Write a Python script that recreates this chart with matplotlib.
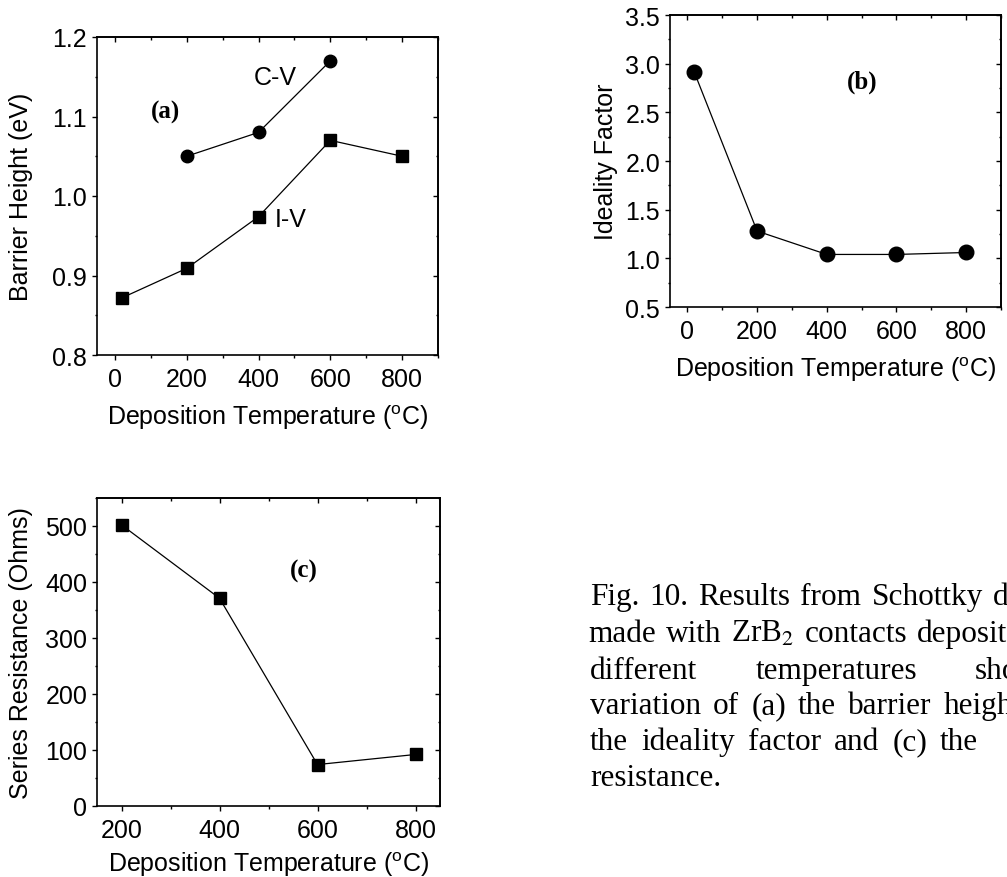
import matplotlib
matplotlib.use("Agg")
import matplotlib.pyplot as plt
from matplotlib.ticker import MultipleLocator

plt.rcParams["font.family"] = "Liberation Sans"
plt.rcParams["mathtext.fontset"] = "custom"
plt.rcParams["mathtext.rm"] = "Liberation Sans"

## DATA

temps_iv = [20, 200, 400, 600, 800]
barrier_iv = [0.872, 0.909, 0.974, 1.07, 1.05]
temps_cv = [200, 400, 600]
barrier_cv = [1.05, 1.08, 1.17]

temps_ideal = [20, 200, 400, 600, 800]
ideality = [2.91, 1.28, 1.04, 1.04, 1.06]

temps_rs = [200, 400, 600, 800]
resistance = [502, 371, 74, 92]

XLABEL = r"Deposition Temperature ($^{\mathrm{o}}$C)"

# justified caption, cut by the page edge: (baseline px, left px, word gap px, words)
caption = [
	(605, 590, 10, ["Fig.", "10.", "Results", "from", "Schottky", "diodes"]),
	(642, 588, 10, ["made", "with", r"ZrB$_2$", "contacts", "deposited"]),
	(679, 590, 58, ["different", "temperatures", "showing"]),
	(714, 590, 12, ["variation", "of", "(a)", "the", "barrier", "height"]),
	(750, 590, 13, ["the", "ideality", "factor", "and", "(c)", "the"]),
	(786, 590, 10, ["resistance."]),
]

W, H = 1007, 878

## UTIL

def _box(left, top, right, bottom):
	return [left / W, 1 - bottom / H, (right - left) / W, (bottom - top) / H]

def _style(ax, xmaj, xmin, ymaj, ymin):
	for s in ax.spines.values():
		s.set_linewidth(1.2)
	ax.xaxis.set_major_locator(MultipleLocator(xmaj))
	ax.xaxis.set_minor_locator(MultipleLocator(xmin))
	ax.yaxis.set_major_locator(MultipleLocator(ymaj))
	ax.yaxis.set_minor_locator(MultipleLocator(ymin))
	ax.tick_params(which = "both", direction = "out", width = 1, labelsize = 18)
	ax.tick_params(which = "major", length = 3.6)
	ax.tick_params(which = "minor", length = 1.8)
	ax.tick_params(axis = "x", pad = 5)
	ax.tick_params(axis = "y", pad = 3.5)

	top = ax.secondary_xaxis("top")
	top.xaxis.set_major_locator(MultipleLocator(xmaj))
	top.xaxis.set_minor_locator(MultipleLocator(xmin))
	right = ax.secondary_yaxis("right")
	right.yaxis.set_major_locator(MultipleLocator(ymaj))
	right.yaxis.set_minor_locator(MultipleLocator(ymin))
	for sec in (top, right):
		sec.tick_params(which = "both", direction = "in", width = 1,
			labeltop = False, labelright = False)
		sec.tick_params(which = "major", length = 3.6)
		sec.tick_params(which = "minor", length = 1.8)
		for s in sec.spines.values():
			s.set_linewidth(1.2)

def _panel(ax, text, x, y):
	ax.text(x, y, text, transform = ax.transAxes, ha = "center", va = "center",
		fontsize = 18, fontweight = "bold", family = "Liberation Serif")

## MAIN

fig = plt.figure(figsize = (W / 100, H / 100), dpi = 100)

# (a)
ax = fig.add_axes(_box(97, 38, 438, 356))
ax.plot(temps_iv, barrier_iv, "k-", lw = 0.9, marker = "s", ms = 8.5)
ax.plot(temps_cv, barrier_cv, "k-", lw = 0.9, marker = "o", ms = 9)
ax.set_xlim(-50, 900)
ax.set_ylim(0.8, 1.2)
_style(ax, 200, 100, 0.1, 0.05)
ax.yaxis.set_major_formatter(lambda v, _: f"{v:.1f}")
ax.set_xlabel(XLABEL, fontsize = 18)
ax.set_ylabel("Barrier Height (eV)", fontsize = 18)
ax.xaxis.set_label_coords(0.5, -0.148)
ax.yaxis.set_label_coords(-0.188, 0.5)
ax.text(0.522, 0.874, "C-V", transform = ax.transAxes, ha = "center", va = "center", fontsize = 18)
ax.text(0.569, 0.428, "I-V", transform = ax.transAxes, ha = "center", va = "center", fontsize = 18)
_panel(ax, "(a)", 0.202, 0.767)

# (b)
ax = fig.add_axes(_box(670, 16, 1001, 308))
ax.plot(temps_ideal, ideality, "k-", lw = 0.9, marker = "o", ms = 10.5)
ax.set_xlim(-50, 900)
ax.set_ylim(0.5, 3.5)
_style(ax, 200, 100, 0.5, 0.25)
ax.yaxis.set_major_formatter(lambda v, _: f"{v:.1f}")
ax.set_xlabel(XLABEL, fontsize = 18)
ax.set_ylabel("Ideality Factor", fontsize = 18)
ax.xaxis.set_label_coords(0.5, -0.161)
ax.yaxis.set_label_coords(-0.157, 0.5)
_panel(ax, "(b)", 0.58, 0.774)

# (c)
ax = fig.add_axes(_box(97, 499, 440, 807))
ax.plot(temps_rs, resistance, "k-", lw = 0.9, marker = "s", ms = 9)
ax.set_xlim(150, 850)
ax.set_ylim(0, 550)
_style(ax, 200, 100, 100, 50)
ax.set_xlabel(XLABEL, fontsize = 18)
ax.set_ylabel("Series Resistance (Ohms)", fontsize = 18)
ax.xaxis.set_label_coords(0.5, -0.14)
ax.yaxis.set_label_coords(-0.187, 0.5)
_panel(ax, "(c)", 0.603, 0.766)

# caption, words laid out one after another
renderer = fig.canvas.get_renderer()
for y, x, gap, words in caption:
	for word in words:
		t = fig.text(x / W, 1 - y / H, word, ha = "left", va = "baseline",
			fontsize = 22.5, family = "Liberation Serif", math_fontfamily = "stix")
		x += t.get_window_extent(renderer).width + gap

fig.savefig("out.png", dpi = 100)
